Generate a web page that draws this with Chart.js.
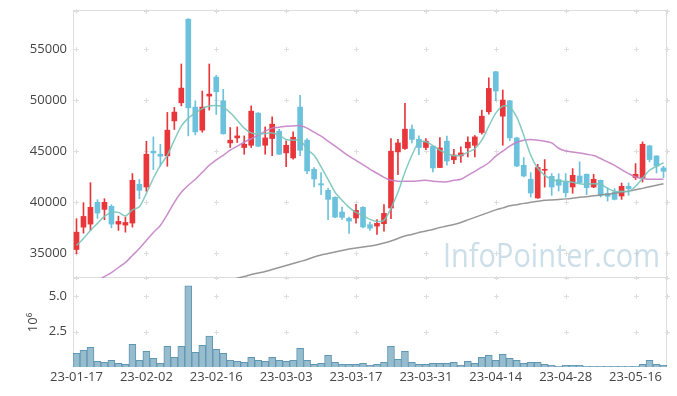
<!DOCTYPE html>
<html>
<head>
<meta charset="utf-8">
<script src="https://cdn.jsdelivr.net/npm/chart.js@4/dist/chart.umd.min.js"></script>
<style>
  html,body{margin:0;padding:0;background:#fff;}
  #wrap{position:relative;width:677px;height:396px;}
  #wrap canvas{position:absolute;left:0;}
  #price{top:0;}
  #vol{top:270px;}
</style>
</head>
<body>
<div id="wrap">
  <canvas id="price" width="677" height="280"></canvas>
  <canvas id="vol" width="677" height="126"></canvas>
</div>
<script>
// ----- data -----
const dates = [
  "23-01-17","23-01-18","23-01-19","23-01-20","23-01-25","23-01-26","23-01-27","23-01-30","23-01-31","23-02-01",
  "23-02-02","23-02-03","23-02-06","23-02-07","23-02-08","23-02-09","23-02-10","23-02-13","23-02-14","23-02-15",
  "23-02-16","23-02-17","23-02-20","23-02-21","23-02-22","23-02-23","23-02-24","23-02-27","23-02-28","23-03-02",
  "23-03-03","23-03-06","23-03-07","23-03-08","23-03-09","23-03-10","23-03-13","23-03-14","23-03-15","23-03-16",
  "23-03-17","23-03-20","23-03-21","23-03-22","23-03-23","23-03-24","23-03-27","23-03-28","23-03-29","23-03-30",
  "23-03-31","23-04-03","23-04-04","23-04-05","23-04-06","23-04-07","23-04-10","23-04-11","23-04-12","23-04-13",
  "23-04-14","23-04-17","23-04-18","23-04-19","23-04-20","23-04-21","23-04-24","23-04-25","23-04-26","23-04-27",
  "23-04-28","23-05-02","23-05-03","23-05-04","23-05-08","23-05-09","23-05-10","23-05-11","23-05-12","23-05-15",
  "23-05-16","23-05-17","23-05-18","23-05-19","23-05-22"
];
const open = [
  35390,37580,37880,40010,39320,39620,37880,37780,37980,41780,
  41510,45020,44720,44560,47990,49760,57950,49340,47080,50420,
  52280,49960,45830,46320,45380,45600,48750,45600,46260,46980,
  44850,44360,49340,46100,43250,41840,41190,40500,39060,38440,
  38470,39520,37820,37680,37920,39450,44950,45280,47180,46190,
  45380,45510,43420,46000,44180,44560,45340,45600,46850,48880,
  52800,48450,49960,46320,43640,42270,40440,43150,42560,42240,
  42000,41510,42590,42760,41510,42170,40860,41020,40630,41580,
  42430,42430,45540,44560,43380
];
const high = [
  38410,39980,41940,40270,40370,39780,38660,38560,42830,42240,
  45990,46420,45700,48820,49310,53560,58000,49960,50910,53560,
  52450,51080,47340,47400,46520,49460,48800,47400,48380,47150,
  46030,46910,50490,46260,43420,42920,41410,40550,39550,38560,
  39810,39600,38070,38310,39780,46260,46190,49700,47570,46520,
  46260,45550,46360,46490,45200,45440,46420,46560,49040,52210,
  52850,51010,50000,46400,44400,42920,43740,44200,42830,42820,
  42830,43320,43970,42800,42760,42200,41450,41350,41900,41900,
  43810,45930,45600,44560,43540
];
const low = [
  34970,36990,37260,38440,38310,37520,37260,37090,37580,40370,
  41090,43220,43540,43540,47150,49460,46520,46620,46880,49040,
  48620,46700,45380,45870,44720,45380,45450,44720,44590,44700,
  43510,44230,44590,42830,41510,40760,38310,38520,38340,36960,
  37980,37500,37260,36870,37190,38410,42730,45200,45830,44690,
  45180,42980,43400,43640,43810,43910,44460,44460,46690,48650,
  49960,45600,46050,43500,42500,40530,40400,41500,40700,41120,
  40530,40900,41900,40760,41450,40530,40140,40250,40300,40700,
  42240,42000,43970,42890,42430
];
const close = [
  37090,38630,39520,38960,40010,37880,38140,38040,42170,41190,
  44720,44850,44530,47080,48850,51200,49270,46910,49340,50610,
  50840,46720,46100,46520,45700,48940,45510,46320,47670,44720,
  45600,46390,45110,43080,42300,41710,40300,38560,38540,38170,
  39220,37600,37480,37950,38930,45020,45830,47180,46170,45380,
  46000,43380,45340,44060,44650,44850,45900,46420,48450,51170,
  50910,50030,46320,43570,42590,40920,43420,43250,41510,41680,
  40960,42660,41940,41450,42270,40700,40600,40300,41580,41350,
  42760,45700,44200,43570,43050
];
const ma5 = [
  35790,36470,37260,37950,38630,39030,39030,38680,39270,39570,
  40890,42370,43640,44620,46100,47470,48260,48750,49190,49440,
  49490,49340,48780,48060,47280,46810,46690,46760,46810,46590,
  46170,46100,46100,45200,44620,43480,42250,41000,40210,39520,
  39030,38680,38340,38140,38240,39420,40990,42950,44620,45900,
  45950,45560,45120,44790,44580,44620,44920,45260,46100,47470,
  48750,49440,49340,48360,46590,44620,43350,42660,42270,42070,
  42070,41970,41830,41780,41830,41780,41380,41090,41090,41090,
  41580,42370,43150,43540,43890
];
const ma20 = [
  null,null,null,32300,32740,33130,33630,34120,34800,35490,
  36280,37060,37750,38830,40010,40990,41680,42270,42950,43640,
  44180,44620,45120,45510,45900,46240,46590,46980,47280,47370,
  47470,47500,47520,47280,46880,46490,46000,45510,45020,44530,
  44130,43690,43250,42860,42460,42170,42070,42070,42070,42120,
  42170,42070,42020,42020,42170,42270,42660,43050,43450,43890,
  44530,45020,45510,45900,46100,46170,46100,46000,45830,45310,
  45050,44950,44850,44720,44590,44300,43970,43640,43220,42830,
  42490,42340,42270,42270,42270
];
const ma60 = [
  null,null,null,null,null,null,null,null,null,null,
  null,null,null,null,null,null,null,null,null,null,
  null,null,32300,32590,32740,32940,33090,33230,33430,33630,
  33820,34020,34210,34410,34660,34850,35000,35150,35300,35440,
  35540,35640,35740,35850,36030,36230,36470,36720,36870,37060,
  37210,37360,37550,37700,37850,38040,38290,38540,38780,39030,
  39270,39470,39670,39780,39910,40010,40110,40210,40250,40300,
  40350,40420,40500,40570,40650,40730,40810,40890,40990,41110,
  41240,41380,41530,41680,41830
];
// volume, in millions (axis title 10^6)
const volume = [
  0.97,1.18,1.39,0.40,0.33,0.47,0.26,0.19,1.60,0.47,
  1.11,0.61,0.26,1.46,0.68,1.46,5.71,1.04,1.53,2.17,
  1.25,0.97,0.47,0.40,0.33,0.68,0.47,0.40,0.68,0.47,
  0.40,0.47,1.32,0.47,0.19,0.26,0.83,0.33,0.19,0.19,
  0.19,0.26,0.12,0.19,0.33,1.46,0.54,1.11,0.33,0.19,
  0.19,0.26,0.26,0.26,0.33,0.12,0.40,0.26,0.68,0.83,
  0.47,0.90,0.61,0.47,0.26,0.33,0.33,0.19,0.12,0.05,
  0.12,0.12,0.12,0.05,0.05,0.05,0.05,0.05,0.05,0.05,
  0.05,0.19,0.47,0.19,0.12
];
const priceTicks = [35000, 40000, 45000, 50000, 55000];
const volTicks = [2.5, 5.0];
const labelEvery = 10;

// ----- styles -----
const UP = "#e8363b", DOWN = "#6cc2dc";
const FRAME = "#dedede";
const AXIS_W = 73;

Chart.defaults.font.family = '"Open Sans", "DejaVu Sans", sans-serif';
Chart.defaults.font.size = 13;
Chart.defaults.color = "#444";

const candleColor = open.map((o, i) => close[i] >= o ? UP : DOWN);

// frame lines + little "+" marks where grid lines would cross
const gridMarks = {
  id: "gridMarks",
  beforeDatasetsDraw(chart, args, opts){
    const {ctx, chartArea: a, scales: {x, y}} = chart;
    ctx.save();
    ctx.strokeStyle = FRAME;
    ctx.lineWidth = 1;
    ctx.beginPath();
    ctx.moveTo(a.left + 0.5, a.top); ctx.lineTo(a.left + 0.5, a.bottom);
    ctx.moveTo(a.right - 0.5, a.top); ctx.lineTo(a.right - 0.5, a.bottom);
    if (opts.top){ ctx.moveTo(a.left, a.top + 0.5); ctx.lineTo(a.right, a.top + 0.5); }
    if (opts.bottom){ ctx.moveTo(a.left, a.bottom - 0.5); ctx.lineTo(a.right, a.bottom - 0.5); }
    ctx.stroke();

    const xs = dates.map((d, i) => i).filter(i => i % labelEvery === 0).map(i => x.getPixelForValue(i));
    xs.push(a.right - 0.5);
    const ys = opts.ticks.map(v => y.getPixelForValue(v));
    if (opts.top) ys.push(a.top + 0.5);
    if (opts.bottom) ys.push(a.bottom - 0.5);
    ctx.beginPath();
    for (const px of xs){
      for (const py of ys){
        const cx = Math.round(px) + 0.5, cy = Math.round(py) + 0.5;
        ctx.moveTo(cx - 2.5, cy); ctx.lineTo(cx + 2.5, cy);
        ctx.moveTo(cx, cy - 2.5); ctx.lineTo(cx, cy + 2.5);
      }
    }
    ctx.stroke();
    ctx.restore();
  }
};

// faint site watermark, bottom-right of the price panel
const watermark = {
  id: "watermark",
  beforeDatasetsDraw(chart){
    const {ctx, chartArea: a} = chart;
    ctx.save();
    ctx.font = '33px "Open Sans", sans-serif';
    ctx.fillStyle = "rgba(170,200,216,0.6)";
    ctx.textAlign = "right";
    ctx.textBaseline = "alphabetic";
    const txt = "InfoPointer.com";
    const w = ctx.measureText(txt).width;
    ctx.translate(a.right - 7, a.bottom - 11);
    ctx.scale(217 / w, 1);
    ctx.fillText(txt, 0, 0);
    ctx.restore();
  }
};

// fixed axis width, and no extra room for half-labels at the ends
const fixWidth = (s) => { s.width = AXIS_W; s.paddingTop = 0; s.paddingBottom = 0; };

// ----- price panel -----
new Chart(document.getElementById("price"), {
  type: "bar",
  data: {
    labels: dates,
    datasets: [
      { type: "line", label: "MA5", data: ma5, borderColor: "rgba(120,196,186,0.9)", borderWidth: 1.5,
        pointRadius: 0, tension: 0.3, order: 0 },
      { type: "line", label: "MA20", data: ma20, borderColor: "rgba(196,128,196,0.9)", borderWidth: 1.5,
        pointRadius: 0, tension: 0.3, order: 0 },
      { type: "line", label: "MA60", data: ma60, borderColor: "rgba(140,140,140,0.9)", borderWidth: 1.5,
        pointRadius: 0, tension: 0.3, order: 0 },
      { label: "body", data: open.map((o, i) => [o, close[i]]), backgroundColor: candleColor,
        barThickness: 5, grouped: false, order: 1 },
      { label: "wick", data: low.map((l, i) => [l, high[i]]), backgroundColor: candleColor,
        barThickness: 1, grouped: false, order: 2 }
    ]
  },
  options: {
    responsive: false,
    animation: false,
    events: [],
    layout: { padding: { left: 0, right: 10, top: 10, bottom: 2 } },
    plugins: { legend: { display: false }, tooltip: { enabled: false },
      gridMarks: { ticks: priceTicks, top: true, bottom: true } },
    scales: {
      x: { type: "category", offset: true, display: false },
      y: {
        min: 32600, max: 58850,
        afterFit: fixWidth,
        afterBuildTicks: (s) => { s.ticks = priceTicks.map(v => ({ value: v })); },
        grid: { display: false, drawTicks: false },
        border: { display: false },
        ticks: { padding: 6, callback: (v) => String(v) }
      }
    }
  },
  plugins: [gridMarks, watermark]
});

// ----- volume panel -----
new Chart(document.getElementById("vol"), {
  type: "bar",
  data: {
    labels: dates,
    datasets: [
      { label: "volume", data: volume, backgroundColor: "rgba(150,188,206,1)", borderColor: "#5f96b2",
        borderWidth: 1, barPercentage: 1, categoryPercentage: 1 }
    ]
  },
  options: {
    responsive: false,
    animation: false,
    events: [],
    layout: { padding: { left: 0, right: 10, top: 8, bottom: 0 } },
    plugins: { legend: { display: false }, tooltip: { enabled: false },
      gridMarks: { ticks: volTicks, top: false, bottom: false } },
    scales: {
      x: {
        type: "category", offset: true,
        afterFit: (s) => { s.height = 29; s.paddingLeft = 0; s.paddingRight = 0; },
        grid: { display: false, drawTicks: false },
        border: { display: false },
        ticks: { autoSkip: false, maxRotation: 0, minRotation: 0, padding: 2,
          callback: (v, i) => i % labelEvery === 0 ? dates[i] : null }
      },
      y: {
        min: 0, max: 6.27,
        afterFit: fixWidth,
        afterBuildTicks: (s) => { s.ticks = volTicks.map(v => ({ value: v })); },
        grid: { display: false, drawTicks: false },
        border: { display: false },
        ticks: { padding: 6, callback: (v) => v.toFixed(1) },
        title: { display: true, text: "10⁶", padding: { top: 25, bottom: 0 } }
      }
    }
  },
  plugins: [gridMarks]
});
</script>
</body>
</html>
